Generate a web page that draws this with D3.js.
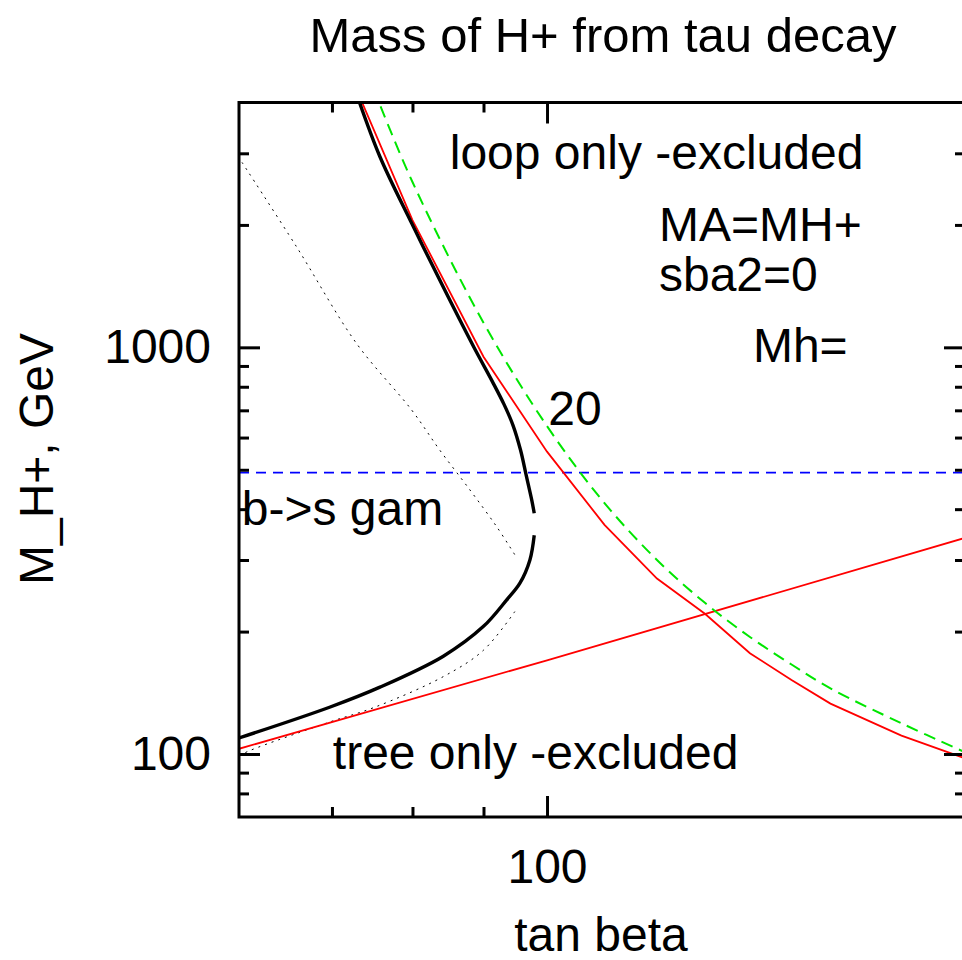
<!DOCTYPE html>
<html>
<head>
<meta charset="utf-8">
<script src="https://cdn.jsdelivr.net/npm/d3@7"></script>
<style>
  html, body { margin: 0; padding: 0; background: #fff; overflow: hidden; }
  svg { display: block; }
</style>
</head>
<body>
<svg id="chart" width="962" height="960"></svg>
<script>
// Curves: tan beta -> M_H+ (GeV)
// thick black: b->s gamma bound, split in two branches (gap near the nose)
const bsgUpperTb = [73.0, 75.8, 79.9, 84.4, 88.6, 91.3, 93.1, 94.5, 95.7, 96.6, 97.5, 97.9];
const bsgUpperM = [4150, 2942, 2018, 1383, 999, 826, 725, 644, 559, 485, 421, 391];
const bsgLowerTb = [97.9, 97.2, 95.6, 93.5, 90.0, 84.2, 75.8, 69.8, 60.0];
const bsgLowerM = [345, 300, 263, 239, 206, 174, 146, 130.5, 109.5];

// thin dotted black branches
const dotUpperTb = [60.3, 66.0, 72.9, 79.9, 83.7, 88.0, 92.0, 94.8];
const dotUpperM = [2850, 1768, 1023, 701, 559, 446, 362, 309];
const dotLowerTb = [94.8, 90.0, 84.2, 75.0, 69.8, 61.1, 60.0];
const dotLowerM = [224, 180, 155, 130, 120, 102, 99];

// red: loop-only limit (piecewise)
const loopTb = [70, 80, 90, 100, 110, 120, 130, 140, 150, 160, 180, 200];
const loopM = [5960, 2056, 948, 554, 366, 270, 221, 177, 152, 133, 111, 97.6];

// green dashed: Mh = 20
const mh20Tb = [75, 80, 90, 100, 110, 120, 130, 140, 150, 160, 180, 200];
const mh20M = [4320, 2550, 1150, 640, 414, 300, 235, 194, 166, 145, 119, 101];

// red: tree-only limit
const treeTb = [60, 100, 200];
const treeM = [103, 170, 340];

// blue dashed: b->s gamma horizontal cut
const bsgCutM = 492;

// axes
const xDomain = [60, 200];
const yDomain = [70, 4000];
const xMinor = [70, 80, 90];
const xMajor = [100];
const yMinor = [80, 90, 200, 300, 400, 500, 600, 700, 800, 900, 2000, 3000];
const yMajor = [100, 1000];

// annotations placed in data coordinates (left edge, baseline)
const notes = [
  { text: "loop only -excluded", tb: 85.1, m: 2744 },
  { text: "MA=MH+", tb: 120.4, m: 1829 },
  { text: "sba2=0", tb: 120.4, m: 1375 },
  { text: "Mh=", tb: 140.7, m: 922 },
  { text: "20", tb: 100.2, m: 644 },
  { text: "b->s gam", tb: 60.27, m: 366 },
  { text: "tree only -excluded", tb: 70.1, m: 91.7 },
];

const font = "'Liberation Sans', Arial, Helvetica, sans-serif";
const pLeft = 239, pRight = 965, pTop = 102.5, pBottom = 817;

const svg = d3.select("#chart").style("font-family", font);

const x = d3.scaleLog().domain(xDomain).range([pLeft, pRight]);
const y = d3.scaleLog().domain(yDomain).range([pBottom, pTop]);

svg.append("defs").append("clipPath").attr("id", "plot")
  .append("rect")
  .attr("x", pLeft).attr("y", pTop)
  .attr("width", pRight - pLeft).attr("height", pBottom - pTop);

const plot = svg.append("g").attr("clip-path", "url(#plot)");

function zip(tb, m) {
  return tb.map((d, i) => [d, m[i]]);
}

function drawLine(tb, m, style, curve) {
  const line = d3.line()
    .x((d) => x(d[0]))
    .y((d) => y(d[1]))
    .curve(curve || d3.curveLinear);
  plot.append("path")
    .datum(zip(tb, m))
    .attr("d", line)
    .attr("fill", "none")
    .attr("stroke", style.color)
    .attr("stroke-width", style.width)
    .attr("stroke-dasharray", style.dash || null);
}

// --- Curves ---
drawLine(xDomain, [bsgCutM, bsgCutM], { color: "#0000ff", width: 1.6, dash: "10,7" });
drawLine(dotUpperTb, dotUpperM, { color: "#000", width: 1, dash: "2,5" }, d3.curveCatmullRom);
drawLine(dotLowerTb, dotLowerM, { color: "#000", width: 1, dash: "2,5" }, d3.curveCatmullRom);
drawLine(treeTb, treeM, { color: "#ff0000", width: 1.8 });
drawLine(loopTb, loopM, { color: "#ff0000", width: 1.8 });
drawLine(mh20Tb, mh20M, { color: "#00e600", width: 2, dash: "12,7" }, d3.curveCatmullRom);
drawLine(bsgUpperTb, bsgUpperM, { color: "#000", width: 3.4 }, d3.curveCatmullRom);
drawLine(bsgLowerTb, bsgLowerM, { color: "#000", width: 3.4 }, d3.curveCatmullRom);

// --- Axes (ticks inward, on all four sides) ---
function styleAxis(g) {
  g.select(".domain").remove();
  g.selectAll(".tick line").attr("stroke-width", 3);
  g.attr("font-size", 48).attr("font-family", font);
  g.selectAll(".tick text").attr("fill", "#000");
}

svg.append("g").attr("transform", `translate(0,${pBottom})`)
  .call(d3.axisBottom(x).tickValues(xMinor).tickSize(-10).tickFormat(""))
  .call(styleAxis);
svg.append("g").attr("transform", `translate(0,${pBottom})`)
  .call(d3.axisBottom(x).tickValues(xMajor).tickSize(-21).tickPadding(32).tickFormat(d3.format("d")))
  .call(styleAxis);
svg.append("g").attr("transform", `translate(0,${pTop})`)
  .call(d3.axisTop(x).tickValues(xMinor).tickSize(-10).tickFormat(""))
  .call(styleAxis);
svg.append("g").attr("transform", `translate(0,${pTop})`)
  .call(d3.axisTop(x).tickValues(xMajor).tickSize(-21).tickFormat(""))
  .call(styleAxis);

svg.append("g").attr("transform", `translate(${pLeft},0)`)
  .call(d3.axisLeft(y).tickValues(yMinor).tickSize(-10).tickFormat(""))
  .call(styleAxis);
svg.append("g").attr("transform", `translate(${pLeft},0)`)
  .call(d3.axisLeft(y).tickValues(yMajor).tickSize(-21).tickPadding(28).tickFormat(d3.format("d")))
  .call(styleAxis);
svg.append("g").attr("transform", `translate(${pRight},0)`)
  .call(d3.axisRight(y).tickValues(yMinor).tickSize(-10).tickFormat(""))
  .call(styleAxis);
svg.append("g").attr("transform", `translate(${pRight},0)`)
  .call(d3.axisRight(y).tickValues(yMajor).tickSize(-21).tickFormat(""))
  .call(styleAxis);

// frame
svg.append("rect")
  .attr("x", pLeft).attr("y", pTop)
  .attr("width", pRight - pLeft).attr("height", pBottom - pTop)
  .attr("fill", "none")
  .attr("stroke", "#000")
  .attr("stroke-width", 3);

// --- Annotations ---
svg.append("g")
  .selectAll("text")
  .data(notes)
  .join("text")
  .attr("x", (d) => x(d.tb))
  .attr("y", (d) => y(d.m))
  .attr("font-size", 48)
  .attr("fill", "#000")
  .text((d) => d.text);

// --- Titles ---
svg.append("text")
  .attr("x", 603).attr("y", 52)
  .attr("text-anchor", "middle")
  .attr("font-size", 49)
  .text("Mass of H+ from tau decay");

svg.append("text")
  .attr("x", 601).attr("y", 951)
  .attr("text-anchor", "middle")
  .attr("font-size", 48)
  .text("tan beta");

svg.append("text")
  .attr("transform", "translate(53,459) rotate(-90)")
  .attr("text-anchor", "middle")
  .attr("font-size", 48)
  .text("M_H+, GeV");
</script>
</body>
</html>
